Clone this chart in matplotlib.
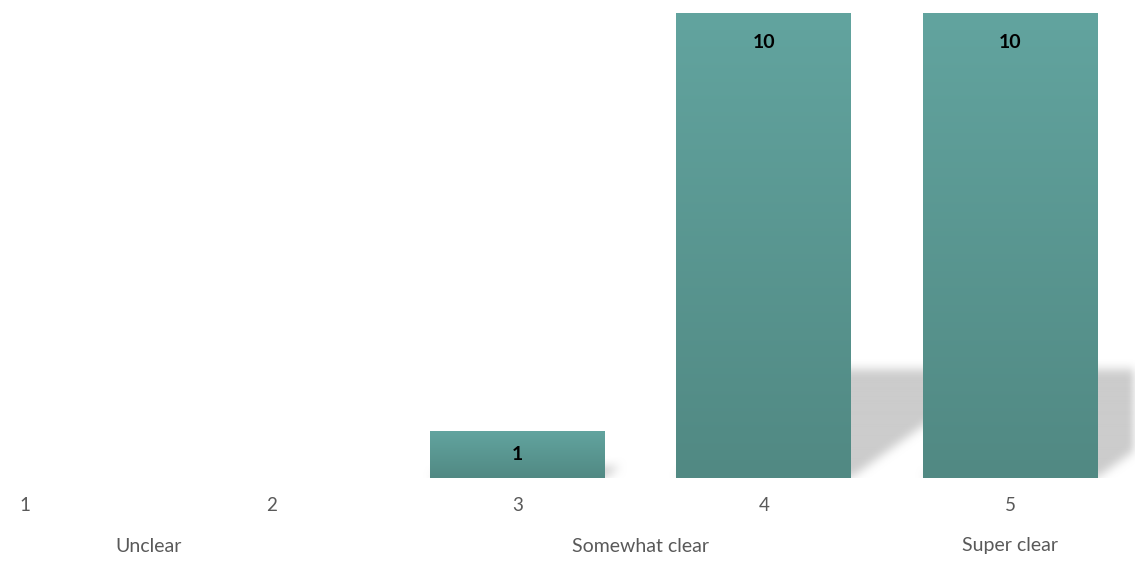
import numpy as np
import matplotlib
matplotlib.use("Agg")
import matplotlib.pyplot as plt
from matplotlib.path import Path
from matplotlib.transforms import blended_transform_factory

# datos del gráfico
categories = [1, 2, 3, 4, 5]
counts = [0, 0, 1, 10, 10]
tick_labels = ["1", "2", "3", "4", "5"]
group_labels = ["Unclear", "Somewhat clear", "Super clear"]
group_pos = [1.5, 3.5, 5.0]

plt.rcParams['font.family'] = ['Lato', 'DejaVu Sans']

fig = plt.figure(figsize=(11.35, 5.64), dpi=100)
ax = fig.add_axes([0, 86 / 564, 1, 465 / 564])
x_left, x_right = 1 - 25 / 246.25, 5 + 125 / 246.25
ax.set_xlim(x_left, x_right)
ax.set_ylim(0, 10)
for s in ax.spines.values():
    s.set_visible(False)
ax.tick_params(left=False, labelleft=False, bottom=False)

width = 0.71
top_col = np.array([98, 164, 159]) / 255
bot_col = np.array([81, 137, 131]) / 255

# sombra en perspectiva (difuminada)
y0, y1 = -0.4, 10.0
nx, ny = 1135, int((y1 - y0) * 46.5)
gx = np.linspace(x_left, x_right, nx)
gy = np.linspace(y0, y1, ny)
XX, YY = np.meshgrid(gx, gy)
pts = np.column_stack([XX.ravel(), YY.ravel()])
mask = np.zeros(XX.size)
for c, v in zip(categories, counts):
    if v <= 0:
        continue
    hs = 0.232 * v
    dx = 0.061 * v
    l, r = c - width / 2, c + width / 2
    poly = Path([(l, 0), (r, 0), (r + dx, hs), (l + dx, hs), (l, 0)])
    mask = np.maximum(mask, poly.contains_points(pts).astype(float))
mask = mask.reshape(ny, nx)
k = np.ones(11) / 11
for _ in range(2):
    mask = np.apply_along_axis(lambda m: np.convolve(m, k, mode='same'), 1, mask)
    mask = np.apply_along_axis(lambda m: np.convolve(m, k, mode='same'), 0, mask)
shadow = np.zeros((ny, nx, 4))
shadow[..., :3] = 0.80
shadow[..., 3] = mask
ax.imshow(shadow, extent=(x_left, x_right, y0, y1), origin='lower',
          aspect='auto', zorder=1, interpolation='bilinear')

# barras con degradado
bars = ax.bar(categories, counts, width=width, color='none', zorder=2)
grad = np.linspace(0, 1, 256)[:, None]
img = bot_col[None, None, :] * (1 - grad[..., None]) + top_col[None, None, :] * grad[..., None]
for b, v in zip(bars, counts):
    if v <= 0:
        continue
    ax.imshow(img, extent=(b.get_x(), b.get_x() + b.get_width(), 0, v),
              origin='lower', aspect='auto', zorder=2)
    off = -min(30, v * 46.5 / 2)
    ax.annotate(str(v), (b.get_x() + b.get_width() / 2, v), xytext=(0, off),
                textcoords='offset pixels', ha='center', va='center',
                fontsize=14, fontweight='bold', color='black', zorder=3)

ax.set_xlim(x_left, x_right)
ax.set_ylim(0, 10)
ax.set_xticks(categories)
ax.set_xticklabels(tick_labels, fontsize=13.5, color='#595959')
ax.tick_params(axis='x', pad=10)

trans = blended_transform_factory(ax.transData, fig.transFigure)
for p, t in zip(group_pos, group_labels):
    fig.text(p, 1 - 546 / 564, t, transform=trans, ha='center', va='center',
             fontsize=14, color='#595959')

fig.savefig('out.png', dpi=100)
